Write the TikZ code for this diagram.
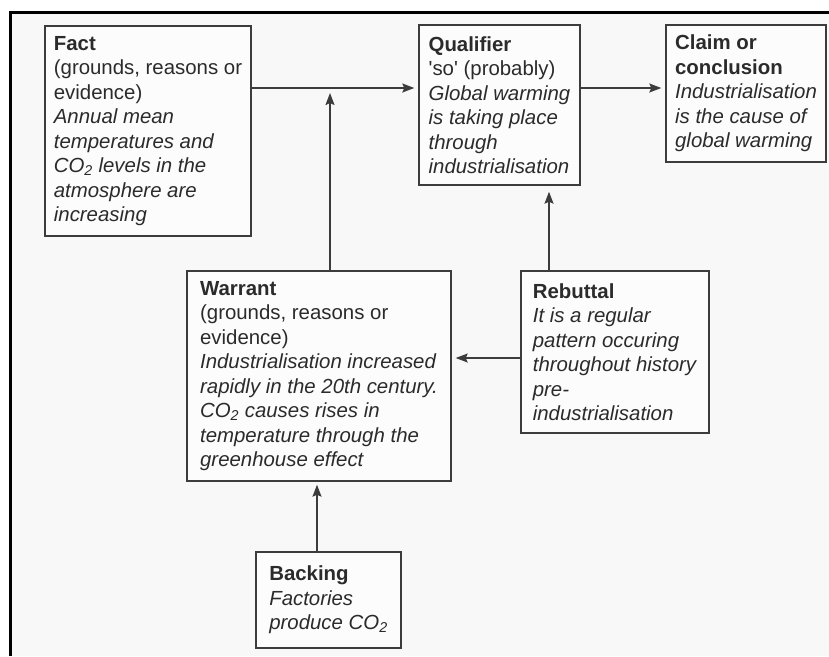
\documentclass[tikz,border=0pt]{standalone}
\usepackage{fontspec}
\setmainfont{Liberation Sans}
\usetikzlibrary{arrows.meta}
\definecolor{ink}{HTML}{2B2B2B}
\definecolor{edge}{HTML}{3C3C3C}
\definecolor{paper}{HTML}{F8F8F8}
\definecolor{boxfill}{HTML}{FCFCFC}
\tikzset{
  part/.style={draw=edge, fill=boxfill, line width=1.4pt, align=left, text=ink,
    inner sep=0pt, font=\fontsize{20.4}{24.5}\selectfont},
  arr/.style={-{Stealth[length=12pt,width=9pt,inset=2pt]}, draw=edge, line width=1.5pt, shorten >=4pt}
}
\begin{document}
\begin{tikzpicture}[x=1pt, y=-1pt]
  \useasboundingbox (0,0) rectangle (829,656);
  \fill[paper] (10,12) rectangle (829,656);
  \draw[line width=3pt] (10,656) -- (10,12) -- (829,12);
  % the six parts of the argument
  \node[part, minimum width=206pt, minimum height=210pt] (fact) at (148,131)
    {\textbf{Fact}\\(grounds, reasons or\\evidence)\\\textit{Annual mean}\\\textit{temperatures and}\\\textit{CO\textsubscript{2} levels in the}\\\textit{atmosphere are}\\\textit{increasing}};
  \node[part, minimum width=161pt, minimum height=160pt] (qual) at (499.5,105)
    {\textbf{Qualifier}\\\textquotesingle so\textquotesingle{} (probably)\\\textit{Global warming}\\\textit{is taking place}\\\textit{through}\\\textit{industrialisation}};
  \node[part, minimum width=160pt, minimum height=137pt] (claim) at (746,93.5)
    {\textbf{Claim or}\\\textbf{conclusion}\\\textit{Industrialisation}\\\textit{is the cause of}\\\textit{global warming}};
  \node[part, minimum width=264pt, minimum height=210pt] (war) at (319,376)
    {\textbf{Warrant}\\(grounds, reasons or\\evidence)\\\textit{Industrialisation increased}\\\textit{rapidly in the 20th century.}\\\textit{CO\textsubscript{2} causes rises in}\\\textit{temperature through the}\\\textit{greenhouse effect}};
  \node[part, minimum width=188pt, minimum height=162pt] (reb) at (615,352)
    {\textbf{Rebuttal}\\\textit{It is a regular}\\\textit{pattern occuring}\\\textit{throughout history}\\\textit{pre-}\\\textit{industrialisation}};
  \node[part, minimum width=145pt, minimum height=96pt] (back) at (328.5,600)
    {\textbf{Backing}\\\textit{Factories}\\\textit{produce CO\textsubscript{2}}};
  % where the connectors run
  \coordinate (lvl) at (0,88);
  \coordinate (jx) at (330,0);
  \coordinate (rx) at (549,0);
  \coordinate (ry) at (0,358);
  \coordinate (bx) at (317,0);
  \draw[arr] (fact.east |- lvl) -- (qual.west |- lvl);
  \draw[arr] (qual.east |- lvl) -- (claim.west |- lvl);
  \draw[arr, shorten >=5pt] (war.north -| jx) -- (lvl -| jx);
  \draw[arr, shorten >=6pt] (reb.north -| rx) -- (qual.south -| rx);
  \draw[arr] (reb.west |- ry) -- (war.east |- ry);
  \draw[arr, shorten >=3pt] (back.north -| bx) -- (war.south -| bx);
\end{tikzpicture}
\end{document}
